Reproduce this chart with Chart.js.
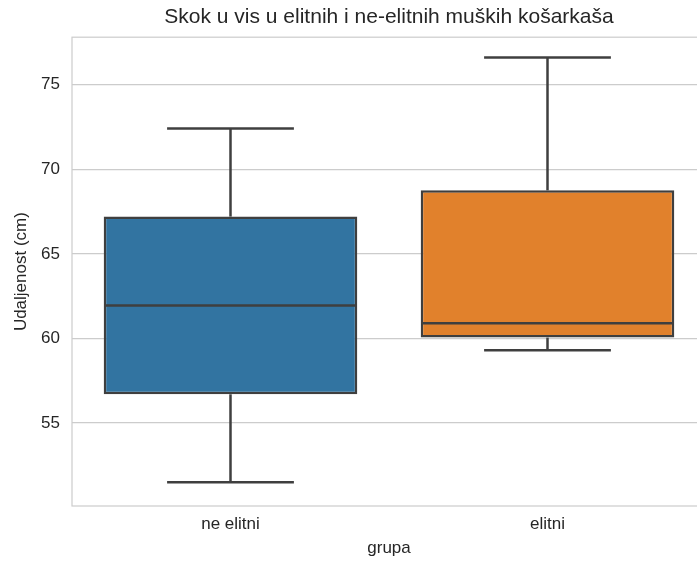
<!DOCTYPE html>
<html>
<head>
<meta charset="utf-8">
<script src="https://cdn.jsdelivr.net/npm/chart.js@4"></script>
<style>
  html, body { margin: 0; padding: 0; background: #fff; overflow: hidden; }
  #wrap { width: 712px; height: 561px; }
</style>
</head>
<body>
<div id="wrap"><canvas id="boxChart"></canvas></div>
<script>
// Box plot: jump height of elite vs non-elite male basketball players
const groups = ['ne elitni', 'elitni'];
const mins = [51.5, 59.3];
const q1s = [56.7, 60.05];
const medians = [61.95, 60.9];
const q3s = [67.2, 68.75];
const maxs = [72.4, 76.6];
const boxColors = ['#3274a1', '#e1812c'];
const yTicks = [55, 60, 65, 70, 75];

const LINE = '#3f3f3f';
const GRID = '#cccccc';
const TEXT = '#262626';
const FONT = "'Liberation Sans', Arial, sans-serif";

// whiskers, caps, medians and the frame
const boxPlugin = {
    id: 'boxExtras',
    beforeDatasetsDraw(chart) {
        const { ctx, chartArea: a } = chart;
        ctx.save();
        ctx.strokeStyle = GRID;
        ctx.lineWidth = 1.2;
        ctx.strokeRect(a.left, a.top, a.right - a.left, a.bottom - a.top);
        ctx.restore();
    },
    afterDatasetsDraw(chart) {
        const { ctx } = chart;
        const x = chart.scales.x, y = chart.scales.y;
        const meta = chart.getDatasetMeta(0);
        ctx.save();
        ctx.strokeStyle = LINE;
        ctx.lineWidth = 2.5;
        ctx.lineCap = 'butt';
        groups.forEach((g, i) => {
            const cx = x.getPixelForValue(i);
            const w = meta.data[i].width;
            const cap = w / 4;
            const seg = (x1, y1, x2, y2) => {
                ctx.beginPath(); ctx.moveTo(x1, y1); ctx.lineTo(x2, y2); ctx.stroke();
            };
            // whiskers
            seg(cx, y.getPixelForValue(q3s[i]), cx, y.getPixelForValue(maxs[i]));
            seg(cx, y.getPixelForValue(q1s[i]), cx, y.getPixelForValue(mins[i]));
            // caps
            seg(cx - cap, y.getPixelForValue(maxs[i]), cx + cap, y.getPixelForValue(maxs[i]));
            seg(cx - cap, y.getPixelForValue(mins[i]), cx + cap, y.getPixelForValue(mins[i]));
            // median
            seg(cx - w / 2 + 1, y.getPixelForValue(medians[i]), cx + w / 2 - 1, y.getPixelForValue(medians[i]));
        });
        ctx.restore();
    }
};

new Chart(document.getElementById('boxChart'), {
    type: 'bar',
    data: {
        labels: groups,
        datasets: [{
            data: groups.map((g, i) => [q1s[i], q3s[i]]),
            backgroundColor: boxColors,
            borderColor: LINE,
            borderWidth: 2.5,
            borderSkipped: false,
            categoryPercentage: 0.8,
            barPercentage: 1.0
        }]
    },
    options: {
        responsive: true,
        maintainAspectRatio: false,
        animation: false,
        layout: { padding: { left: 0, right: 6, top: 0, bottom: 0 } },
        plugins: {
            legend: { display: false },
            tooltip: { enabled: false },
            title: {
                display: true,
                fullSize: false,
                text: 'Skok u vis u elitnih i ne-elitnih muških košarkaša',
                color: TEXT,
                font: { family: FONT, size: 21, weight: 'normal' },
                padding: { top: 5, bottom: 7 }
            }
        },
        scales: {
            x: {
                grid: { display: false, drawTicks: false },
                border: { display: false },
                ticks: { color: TEXT, font: { family: FONT, size: 17 }, padding: 8 },
                title: {
                    display: true, text: 'grupa', color: TEXT,
                    font: { family: FONT, size: 17 }, padding: { top: 0, bottom: 2 }
                },
                afterFit(s) { s.height = 55; }
            },
            y: {
                min: 50.1,
                max: 77.8,
                grid: { color: GRID, lineWidth: 1.2, drawTicks: false },
                border: { display: false },
                afterBuildTicks(s) { s.ticks = yTicks.map(v => ({ value: v })); },
                ticks: { color: TEXT, font: { family: FONT, size: 17 }, padding: 12 },
                title: {
                    display: true, text: 'Udaljenost (cm)', color: TEXT,
                    font: { family: FONT, size: 17 }, padding: { top: 11, bottom: 0 }
                },
                afterFit(s) { s.width = 72; }
            }
        }
    },
    plugins: [boxPlugin]
});
</script>
</body>
</html>
